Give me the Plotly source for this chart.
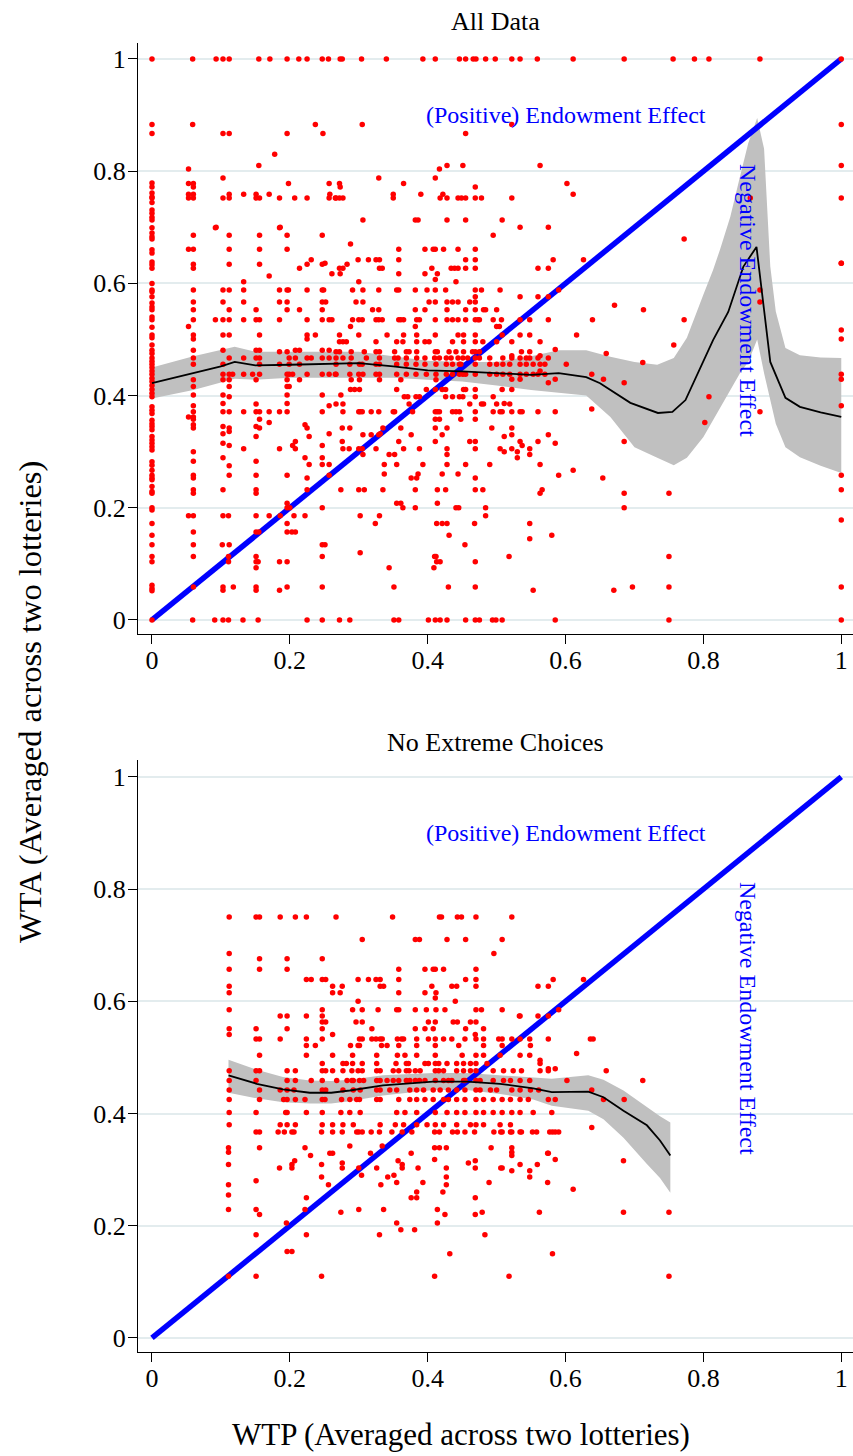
import plotly.graph_objects as go

# ---------------- DATA ----------------
# Panel 1: "All Data"  -- WTA values observed at WTP = 0
TOP_ZERO_COL = [1.0, 0.883, 0.867, 0.779, 0.772, 0.761, 0.754, 0.752, 0.744, 0.731, 0.725, 0.718,
                0.713, 0.699, 0.69, 0.683, 0.679, 0.66, 0.654, 0.638, 0.633, 0.627, 0.6, 0.588,
                0.585, 0.576, 0.565, 0.558, 0.553, 0.54, 0.535, 0.522, 0.508, 0.503, 0.49, 0.481,
                0.475, 0.467, 0.461, 0.456, 0.45, 0.444, 0.438, 0.431, 0.425, 0.418, 0.411, 0.404,
                0.398, 0.38, 0.374, 0.368, 0.356, 0.35, 0.345, 0.339, 0.327, 0.321, 0.315, 0.309,
                0.303, 0.282, 0.276, 0.267, 0.258, 0.253, 0.25, 0.238, 0.229, 0.226, 0.2, 0.196,
                0.172, 0.151, 0.134, 0.113, 0.104, 0.062, 0.056, 0.052, 0.0]

# rows: (WTA, [WTP values])
TOP_ROWS = [
    (1.0, [0.059, 0.093, 0.103, 0.112, 0.155, 0.171, 0.196, 0.213, 0.225, 0.247, 0.256, 0.273, 0.276,
           0.304, 0.34, 0.393, 0.411, 0.446, 0.455, 0.466, 0.47, 0.484, 0.498, 0.522, 0.534, 0.559,
           0.611, 0.685, 0.756, 0.787, 0.808, 0.882, 1.0]),
    (0.883, [0.059, 0.237, 0.305, 0.522, 1.0]),
    (0.867, [0.103, 0.112, 0.196, 0.248, 0.455]),
    (0.83, [0.178]),
    (0.81, [0.155, 0.428, 0.451, 0.563, 1.0]),
    (0.804, [0.053, 0.417]),
    (0.788, [0.103, 0.329, 0.411]),
    (0.778, [0.053, 0.06, 0.198, 0.257, 0.272, 0.365, 0.602]),
    (0.772, [0.06, 0.273, 0.469]),
    (0.759, [0.053, 0.06, 0.112, 0.133, 0.151, 0.17, 0.258, 0.35, 0.39, 0.422, 0.611]),
    (0.752, [0.053, 0.06, 0.103, 0.112, 0.151, 0.156, 0.185, 0.207, 0.225, 0.257, 0.266, 0.267, 0.272,
             0.277, 0.35, 0.418, 0.428, 0.444, 0.449, 0.455, 0.469, 0.478, 0.522, 0.868, 1.0]),
    (0.713, [0.306, 0.382, 0.386, 0.428, 0.455, 0.508]),
    (0.7, [0.093, 0.186, 0.534, 0.575]),
    (0.699, [0.092, 0.185]),
    (0.686, [0.06, 0.112, 0.156, 0.196, 0.247, 0.495]),
    (0.679, [0.772]),
    (0.67, [0.288]),
    (0.661, [0.053, 0.06, 0.112, 0.156, 0.196, 0.358, 0.396, 0.408, 0.411, 0.423, 0.444, 0.469]),
    (0.642, [0.231, 0.299, 0.314, 0.325, 0.33, 0.358, 0.455, 0.469, 0.582, 0.626]),
    (0.636, [0.251, 1.0, 1.0]),
    (0.634, [0.06, 0.112, 0.156, 0.225, 0.247, 0.283]),
    (0.627, [0.06, 0.214, 0.272, 0.277, 0.33, 0.334, 0.406, 0.434, 0.439, 0.444, 0.455, 0.469, 0.56,
             0.575]),
    (0.617, [0.261, 0.273, 0.358, 0.396, 0.414]),
    (0.613, [0.17]),
    (0.607, [0.411]),
    (0.603, [0.133, 0.3, 0.441]),
    (0.588, [0.06, 0.103, 0.112, 0.133, 0.185, 0.196, 0.198, 0.225, 0.247, 0.249, 0.291, 0.306, 0.329,
             0.355, 0.358, 0.382, 0.399, 0.411, 0.426, 0.469, 0.478, 0.505, 0.59, 0.882]),
    (0.576, [0.469, 0.534, 0.56, 0.575]),
    (0.567, [0.06, 0.103, 0.133, 0.185, 0.196, 0.247, 0.252, 0.296, 0.306, 0.402, 0.411, 0.428, 0.436,
             0.444, 0.461, 0.469, 0.882]),
    (0.561, [0.671]),
    (0.553, [0.06, 0.112, 0.151, 0.196, 0.214, 0.247, 0.32, 0.329, 0.382, 0.396, 0.428, 0.455, 0.469,
             0.481, 0.484, 0.5, 0.713]),
    (0.535, [0.06, 0.092, 0.103, 0.112, 0.133, 0.151, 0.156, 0.185, 0.225, 0.247, 0.257, 0.261, 0.291,
             0.3, 0.305, 0.325, 0.329, 0.334, 0.358, 0.361, 0.365, 0.384, 0.388, 0.411, 0.428, 0.436,
             0.444, 0.455, 0.469, 0.473, 0.475, 0.495, 0.507, 0.534, 0.548, 0.575, 0.639, 0.772]),
    (0.523, [0.053, 0.288, 0.382, 0.5, 0.504]),
    (0.517, [1.0]),
    (0.508, [0.06, 0.103, 0.112, 0.156, 0.225, 0.237, 0.272, 0.3, 0.341, 0.365, 0.384, 0.411, 0.444,
             0.452, 0.469, 0.508, 0.534, 0.548, 0.616]),
    (0.501, [0.06, 0.225, 1.0]),
    (0.496, [0.272, 0.277, 0.282, 0.325, 0.355, 0.364, 0.384, 0.396, 0.402, 0.436, 0.452, 0.469, 0.48,
             0.5, 0.522, 0.563]),
    (0.49, [0.757]),
    (0.482, [0.585]),
    (0.481, [0.06, 0.103, 0.151, 0.156, 0.208, 0.214, 0.247, 0.257]),
    (0.478, [0.185, 0.196, 0.267, 0.272, 0.289, 0.308, 0.325, 0.33, 0.352, 0.369, 0.373, 0.384, 0.411,
             0.414, 0.431, 0.441, 0.452, 0.465, 0.469, 0.475, 0.536, 0.548]),
    (0.475, [0.659]),
    (0.471, [0.522, 0.563]),
    (0.467, [0.06, 0.112, 0.133, 0.151, 0.156, 0.199, 0.208, 0.225, 0.231, 0.247, 0.257, 0.267, 0.277,
             0.289, 0.311, 0.33, 0.352, 0.357, 0.369, 0.384, 0.396, 0.41, 0.417, 0.427, 0.434, 0.444,
             0.451, 0.458, 0.469, 0.475, 0.49, 0.509, 0.522, 0.534, 0.543, 0.548, 0.56, 0.575]),
    (0.459, [0.712]),
    (0.456, [0.06, 0.103, 0.156, 0.185, 0.199, 0.214, 0.267, 0.287, 0.301, 0.305, 0.325, 0.33, 0.355,
             0.369, 0.383, 0.396, 0.412, 0.427, 0.436, 0.446, 0.448, 0.469, 0.49, 0.5, 0.509, 0.519,
             0.534, 0.543, 0.553, 0.563, 0.57, 0.601]),
    (0.444, [0.563]),
    (0.438, [0.103, 0.112, 0.117, 0.133, 0.146, 0.156, 0.196, 0.199, 0.204, 0.225, 0.247, 0.257, 0.266,
             0.267, 0.287, 0.3, 0.306, 0.325, 0.33, 0.355, 0.369, 0.383, 0.398, 0.412, 0.427, 0.436,
             0.446, 0.451, 0.455, 0.469, 0.49, 0.5, 0.509, 0.519, 0.534, 0.543, 0.553, 0.56, 0.57,
             0.638, 1.0]),
    (0.429, [0.522, 0.534, 0.585, 0.655, 1.0]),
    (0.428, [0.06, 0.103, 0.112, 0.151, 0.196, 0.214, 0.289, 0.301, 0.33, 0.361, 0.412]),
    (0.423, [0.685, 0.575]),
    (0.416, [0.06, 0.112, 0.196, 0.199]),
    (0.411, [0.288, 0.294, 0.301, 0.355, 0.398, 0.411, 0.421, 0.426, 0.452, 0.455, 0.469, 0.508, 0.522]),
    (0.401, [0.06, 0.103, 0.196, 0.247, 0.274]),
    (0.398, [0.112, 0.366, 0.371, 0.383, 0.388, 0.426, 0.436, 0.446, 0.451, 0.469, 0.495, 0.808]),
    (0.386, [0.103, 0.196, 0.511]),
    (0.385, [0.151, 0.267, 0.277, 0.373, 0.461, 0.478, 0.481, 0.5, 0.519]),
    (0.382, [0.06, 0.257, 1.0]),
    (0.376, [0.638]),
    (0.371, [0.06, 0.103, 0.112, 0.133, 0.151, 0.156, 0.17, 0.185, 0.196, 0.247, 0.277, 0.3, 0.302,
             0.305, 0.318, 0.329, 0.35, 0.352, 0.378, 0.411, 0.414, 0.417, 0.436, 0.441, 0.446, 0.469,
             0.495, 0.505, 0.508, 0.522, 0.534, 0.537, 0.56, 0.585, 0.882]),
    (0.362, [0.053, 0.06]),
    (0.358, [0.06, 0.156, 0.411, 0.417, 0.448, 0.469]),
    (0.352, [0.17, 0.802]),
    (0.348, [0.06, 0.222]),
    (0.345, [0.103, 0.151]),
    (0.342, [0.06, 0.112, 0.156, 0.225, 0.276, 0.287, 0.335, 0.361, 0.411, 0.428, 0.493, 0.522]),
    (0.336, [0.112]),
    (0.332, [0.103, 0.257, 0.331]),
    (0.33, [0.306, 0.318, 0.329, 0.376, 0.421, 0.522, 0.575]),
    (0.327, [0.151, 0.228, 0.511]),
    (0.318, [0.208, 0.276, 0.358, 0.411, 0.461, 0.469, 0.534, 0.56, 0.685]),
    (0.315, [0.103, 0.585]),
    (0.311, [0.112, 0.204, 0.247, 0.537]),
    (0.305, [0.133, 0.185, 0.208, 0.277, 0.286, 0.3, 0.305, 0.325, 0.365, 0.388, 0.428, 0.469, 0.505,
             0.522, 0.548]),
    (0.3, [0.06, 0.511, 0.53]),
    (0.295, [0.306, 0.344, 0.352, 0.428, 0.548]),
    (0.289, [0.103, 0.222, 0.247, 0.53]),
    (0.283, [0.06, 0.151]),
    (0.277, [0.228, 0.247, 0.257, 0.337, 0.355, 0.393, 0.428, 0.455, 0.49, 0.563]),
    (0.275, [0.112]),
    (0.267, [0.611]),
    (0.26, [0.337, 0.386, 0.421, 0.444]),
    (0.258, [0.06, 0.112, 0.151, 0.196, 0.257, 0.59, 1.0]),
    (0.253, [0.06, 0.225, 0.376, 0.384, 0.469, 0.654]),
    (0.232, [0.06, 0.103, 0.151, 0.225, 0.274, 0.3, 0.308, 0.335, 0.382, 0.414, 0.426, 0.469, 0.48,
             0.566, 1.0]),
    (0.226, [0.06, 0.151, 0.563, 0.685, 0.75]),
    (0.208, [0.196, 0.355, 0.361, 0.414]),
    (0.2, [0.196, 0.2, 0.247, 0.364, 0.382, 0.441, 0.445, 0.484, 0.685]),
    (0.186, [0.053, 0.06, 0.103, 0.111, 0.151, 0.17, 0.186, 0.206, 0.222, 0.302, 0.33, 0.484]),
    (0.178, [1.0]),
    (0.172, [0.196, 0.324, 0.413, 0.421, 0.428, 0.468, 0.548]),
    (0.157, [0.06, 0.151, 0.155, 0.196, 0.203, 0.208]),
    (0.151, [0.431, 0.58]),
    (0.145, [0.548]),
    (0.134, [0.06, 0.102, 0.112, 0.247, 0.251, 0.454]),
    (0.12, [0.302]),
    (0.113, [0.06, 0.111, 0.151, 0.247, 0.41, 0.412, 0.518, 0.75]),
    (0.104, [0.111, 0.151, 0.154, 0.185, 0.196, 0.413, 0.418, 0.469]),
    (0.093, [0.151, 0.344, 0.409]),
    (0.059, [0.06, 0.103, 0.118, 0.151, 0.196, 0.247, 0.351, 0.43, 0.469, 0.697, 0.75, 1.0]),
    (0.053, [0.103, 0.151, 0.185, 0.553, 0.67]),
    (0.0, [0.059, 0.091, 0.103, 0.111, 0.132, 0.154, 0.225, 0.247, 0.272, 0.287, 0.351, 0.358, 0.401,
           0.411, 0.418, 0.428, 0.455, 0.469, 0.475, 0.494, 0.499, 0.508, 0.585, 0.75, 1.0]),
]

# Panel 1 local-regression fit with confidence band
TOP_FIT_X = [0.0, 0.06, 0.1, 0.12, 0.15, 0.2, 0.25, 0.3, 0.35, 0.4, 0.45, 0.5, 0.55, 0.59, 0.63,
             0.65, 0.694, 0.734, 0.755, 0.774, 0.814, 0.836, 0.858, 0.877, 0.897, 0.919, 0.94,
             0.97, 1.0]
TOP_FIT_Y = [0.422, 0.44, 0.452, 0.46, 0.454, 0.455, 0.457, 0.458, 0.452, 0.445, 0.443, 0.44,
             0.437, 0.44, 0.433, 0.422, 0.387, 0.369, 0.371, 0.392, 0.499, 0.549, 0.63, 0.665,
             0.46, 0.396, 0.38, 0.37, 0.362]
TOP_BAND_X = [0.0, 0.06, 0.12, 0.15, 0.2, 0.3, 0.35, 0.4, 0.45, 0.5, 0.55, 0.59, 0.63, 0.665,
              0.7, 0.733, 0.757, 0.776, 0.8, 0.814, 0.824, 0.839, 0.853, 0.865, 0.878, 0.888,
              0.897, 0.905, 0.919, 0.94, 0.97, 1.0]
TOP_BAND_HI = [0.45, 0.47, 0.487, 0.478, 0.478, 0.478, 0.47, 0.462, 0.46, 0.46, 0.47, 0.481,
               0.481, 0.469, 0.46, 0.455, 0.467, 0.503, 0.58, 0.624, 0.66, 0.719, 0.79, 0.85,
               0.895, 0.84, 0.63, 0.55, 0.485, 0.472, 0.468, 0.467]
TOP_BAND_LO = [0.395, 0.41, 0.43, 0.428, 0.432, 0.432, 0.432, 0.428, 0.425, 0.418, 0.41, 0.405,
               0.4, 0.362, 0.308, 0.289, 0.276, 0.289, 0.326, 0.355, 0.378, 0.41, 0.44, 0.46,
               0.5, 0.44, 0.39, 0.35, 0.308, 0.29, 0.275, 0.262]

# Panel 2: "No Extreme Choices"
BOT_ROWS = [
    (0.75, [0.112, 0.151, 0.156, 0.186, 0.208, 0.224, 0.267, 0.349, 0.417, 0.42, 0.443, 0.449, 0.47,
            0.522]),
    (0.71, [0.305, 0.382, 0.388, 0.428, 0.455, 0.508]),
    (0.685, [0.112, 0.496]),
    (0.676, [0.156, 0.196, 0.247]),
    (0.657, [0.112, 0.156, 0.196, 0.358, 0.396, 0.408, 0.411, 0.423, 0.47]),
    (0.639, [0.224, 0.231, 0.247, 0.252, 0.299, 0.314, 0.325, 0.331, 0.358, 0.455, 0.47, 0.582, 0.626]),
    (0.627, [0.112, 0.262, 0.276, 0.331, 0.336, 0.406, 0.435, 0.442, 0.47, 0.56, 0.575]),
    (0.615, [0.112, 0.262, 0.273, 0.358, 0.396, 0.412]),
    (0.606, [0.411]),
    (0.6, [0.299, 0.44]),
    (0.585, [0.112, 0.247, 0.291, 0.305, 0.328, 0.355, 0.358, 0.382, 0.398, 0.412, 0.425, 0.47, 0.478,
             0.508, 0.59]),
    (0.574, [0.186, 0.196, 0.224, 0.247, 0.533, 0.534, 0.56, 0.575]),
    (0.563, [0.247, 0.252, 0.296, 0.305, 0.401, 0.411, 0.437, 0.443, 0.462, 0.47]),
    (0.551, [0.112, 0.151, 0.196, 0.247, 0.319, 0.382, 0.396, 0.408, 0.455, 0.481]),
    (0.541, [0.112, 0.262, 0.469]),
    (0.533, [0.151, 0.156, 0.186, 0.224, 0.247, 0.301, 0.305, 0.319, 0.325, 0.331, 0.334, 0.356, 0.362,
             0.365, 0.384, 0.401, 0.411, 0.423, 0.435, 0.454, 0.47, 0.481, 0.503, 0.508, 0.522, 0.534,
             0.548, 0.575, 0.636, 0.64]),
    (0.521, [0.224, 0.237, 0.288, 0.299, 0.301, 0.333, 0.341, 0.358, 0.384, 0.411, 0.445, 0.481, 0.508,
             0.549]),
    (0.507, [0.616]),
    (0.504, [0.156, 0.224, 0.262, 0.291, 0.326, 0.356, 0.367, 0.384, 0.411, 0.45, 0.47, 0.481, 0.505,
             0.534, 0.548]),
    (0.495, [0.563]),
    (0.489, [0.247, 0.277, 0.282, 0.291, 0.305, 0.326, 0.354, 0.369, 0.372, 0.396, 0.401, 0.411, 0.416,
             0.428, 0.442, 0.452, 0.462, 0.47, 0.486, 0.563]),
    (0.48, [0.575, 0.585]),
    (0.476, [0.112, 0.151, 0.156, 0.196, 0.208, 0.247, 0.252, 0.262, 0.277, 0.29, 0.299, 0.305, 0.326,
             0.331, 0.35, 0.358, 0.369, 0.373, 0.382, 0.389, 0.411, 0.416, 0.423, 0.442, 0.452, 0.462,
             0.47, 0.495, 0.51, 0.524, 0.536, 0.563, 0.575, 0.659]),
    (0.459, [0.112, 0.151, 0.196, 0.208, 0.231, 0.247, 0.268, 0.283, 0.29, 0.292, 0.301, 0.307, 0.326,
             0.331, 0.341, 0.35, 0.358, 0.369, 0.374, 0.382, 0.388, 0.396, 0.411, 0.423, 0.43, 0.435,
             0.452, 0.454, 0.47, 0.476, 0.495, 0.51, 0.52, 0.534, 0.548, 0.602, 0.712]),
    (0.442, [0.112, 0.156, 0.186, 0.196, 0.206, 0.247, 0.252, 0.277, 0.292, 0.302, 0.326, 0.331, 0.345,
             0.355, 0.374, 0.384, 0.394, 0.408, 0.418, 0.43, 0.442, 0.454, 0.47, 0.476, 0.491, 0.5,
             0.522, 0.534, 0.549, 0.561, 0.638]),
    (0.425, [0.112, 0.156, 0.191, 0.196, 0.208, 0.222, 0.247, 0.251, 0.275, 0.287, 0.297, 0.301, 0.326,
             0.331, 0.358, 0.374, 0.384, 0.396, 0.408, 0.423, 0.43, 0.442, 0.454, 0.47, 0.481, 0.495,
             0.508, 0.52, 0.534, 0.546, 0.575, 0.585, 0.655, 0.685]),
    (0.402, [0.112, 0.151, 0.194, 0.196, 0.224, 0.247, 0.274, 0.287, 0.302, 0.355, 0.367, 0.384, 0.411,
             0.428, 0.442, 0.454, 0.47, 0.481, 0.495, 0.508, 0.522, 0.534, 0.553, 0.58]),
    (0.38, [0.112, 0.186, 0.196, 0.208, 0.247, 0.262, 0.277, 0.292, 0.331, 0.353, 0.365, 0.384, 0.399,
            0.411, 0.423, 0.442, 0.462, 0.47, 0.481, 0.505, 0.52]),
    (0.375, [0.638]),
    (0.367, [0.151, 0.156, 0.183, 0.192, 0.203, 0.206, 0.246, 0.262, 0.276, 0.297, 0.3, 0.305, 0.318,
             0.33, 0.348, 0.363, 0.377, 0.41, 0.417, 0.436, 0.443, 0.454, 0.468, 0.496, 0.506, 0.508,
             0.52, 0.522, 0.534, 0.536, 0.552, 0.558, 0.577, 0.581, 0.585, 0.59]),
    (0.342, [0.287, 0.334]),
    (0.339, [0.111, 0.156, 0.222, 0.41, 0.417, 0.427, 0.492, 0.522]),
    (0.331, [0.111, 0.522]),
    (0.329, [0.258, 0.262, 0.317, 0.376, 0.574, 0.575]),
    (0.325, [0.23, 0.522]),
    (0.318, [0.41, 0.585]),
    (0.316, [0.207, 0.357, 0.469, 0.684]),
    (0.312, [0.276, 0.459]),
    (0.309, [0.111, 0.203, 0.246, 0.363, 0.534, 0.559]),
    (0.303, [0.185, 0.203, 0.276, 0.3, 0.326, 0.363, 0.386, 0.427, 0.469, 0.506, 0.508]),
    (0.298, [0.522, 0.548]),
    (0.29, [0.304, 0.351]),
    (0.287, [0.246, 0.342, 0.427, 0.548]),
    (0.28, [0.151]),
    (0.277, [0.355, 0.393, 0.489, 0.574]),
    (0.273, [0.111, 0.256, 0.332, 0.427]),
    (0.265, [0.611]),
    (0.26, [0.384, 0.422]),
    (0.255, [0.111]),
    (0.25, [0.224, 0.376, 0.384, 0.469]),
    (0.229, [0.111, 0.151, 0.222, 0.3, 0.336, 0.414]),
    (0.224, [0.274, 0.479, 0.562, 0.684, 0.75]),
    (0.22, [0.156, 0.425, 0.469]),
    (0.205, [0.195, 0.355, 0.414]),
    (0.193, [0.361, 0.381]),
    (0.184, [0.151, 0.224, 0.33, 0.483]),
    (0.154, [0.196, 0.203]),
    (0.15, [0.432, 0.581]),
    (0.11, [0.111, 0.151, 0.246, 0.41, 0.518, 0.75]),
]

BOT_FIT_X = [0.111, 0.152, 0.19, 0.229, 0.26, 0.287, 0.335, 0.408, 0.457, 0.505, 0.553, 0.58,
             0.633, 0.655, 0.684, 0.718, 0.737, 0.752]
BOT_FIT_Y = [0.468, 0.453, 0.443, 0.437, 0.437, 0.441, 0.45, 0.457, 0.457, 0.453, 0.445, 0.438,
             0.439, 0.429, 0.405, 0.379, 0.352, 0.325]
BOT_BAND_HI = [0.496, 0.478, 0.465, 0.459, 0.458, 0.46, 0.468, 0.472, 0.472, 0.468, 0.465, 0.462,
               0.468, 0.46, 0.441, 0.411, 0.395, 0.384]
BOT_BAND_LO = [0.437, 0.427, 0.42, 0.418, 0.418, 0.422, 0.432, 0.442, 0.442, 0.435, 0.425, 0.414,
               0.405, 0.39, 0.357, 0.31, 0.285, 0.259]

DIAG = [0, 1]
TICKS = [0, 0.2, 0.4, 0.6, 0.8, 1]
PANEL_TITLES = ["All Data", "No Extreme Choices"]
POS_LABEL = "(Positive) Endowment Effect"
NEG_LABEL = "Negative Endowment Effect"
X_TITLE = "WTP (Averaged across two lotteries)"
Y_TITLE = "WTA (Averaged across two lotteries)"

# ---------------- FIGURE ----------------
FONT = "Liberation Serif, Times New Roman, serif"
RED = "#ff0000"
BLUE = "#0000ff"
BAND = "#c0c0c0"
GRID = "#e3ecee"


def flatten(rows, zero_col=None):
    xs, ys = [], []
    for y, row in rows:
        for x in row:
            xs.append(x)
            ys.append(y)
    if zero_col is not None:
        for y in zero_col:
            xs.append(0.0)
            ys.append(y)
    return xs, ys


top_x, top_y = flatten(TOP_ROWS, TOP_ZERO_COL)
bot_x, bot_y = flatten(BOT_ROWS)

fig = go.Figure()


def add_panel(xa, ya, px, py, fx, fy, bx, bhi, blo):
    fig.add_trace(go.Scatter(x=list(bx) + list(bx)[::-1], y=list(bhi) + list(blo)[::-1],
                             fill="toself", fillcolor=BAND, line=dict(width=0),
                             mode="lines", hoverinfo="skip", showlegend=False,
                             xaxis=xa, yaxis=ya))
    fig.add_trace(go.Scatter(x=DIAG, y=DIAG, mode="lines", line=dict(color=BLUE, width=5.5),
                             showlegend=False, xaxis=xa, yaxis=ya))
    fig.add_trace(go.Scatter(x=px, y=py, mode="markers",
                             marker=dict(color=RED, size=5.5, line=dict(width=0)),
                             showlegend=False, xaxis=xa, yaxis=ya))
    fig.add_trace(go.Scatter(x=fx, y=fy, mode="lines", line=dict(color="black", width=1.8),
                             showlegend=False, xaxis=xa, yaxis=ya))


add_panel("x", "y", top_x, top_y, TOP_FIT_X, TOP_FIT_Y, TOP_BAND_X, TOP_BAND_HI, TOP_BAND_LO)
add_panel("x2", "y2", bot_x, bot_y, BOT_FIT_X, BOT_FIT_Y, BOT_FIT_X, BOT_BAND_HI, BOT_BAND_LO)

axis_common = dict(showline=True, linecolor="black", linewidth=1.3, ticks="outside", ticklen=9,
                   tickwidth=1.3, tickcolor="black", tickvals=TICKS,
                   tickfont=dict(family=FONT, size=26, color="black"), zeroline=False)
fig.update_layout(
    width=853, height=1456, margin=dict(l=138, r=0, t=0, b=0),
    paper_bgcolor="white", plot_bgcolor="white", showlegend=False,
    font=dict(family=FONT, color="black"),
    xaxis=dict(domain=[0, 1], range=[-0.0203, 1.017], anchor="y", showgrid=False,
               ticklabelstandoff=-6, **axis_common),
    yaxis=dict(domain=[1 - 634 / 1456, 1 - 43 / 1456], range=[-0.025, 1.0285], anchor="x",
               showgrid=True, gridcolor=GRID, gridwidth=1.5, ticklabelstandoff=-3, **axis_common),
    xaxis2=dict(domain=[0, 1], range=[-0.0203, 1.017], anchor="y2", showgrid=False,
                ticklabelstandoff=-6, **axis_common),
    yaxis2=dict(domain=[1 - 1352 / 1456, 1 - 760 / 1456], range=[-0.025, 1.03], anchor="x2",
                showgrid=True, gridcolor=GRID, gridwidth=1.5, ticklabelstandoff=-3, **axis_common),
)

ann = []
ann.append(dict(text=PANEL_TITLES[0], x=0.5, y=1 - 22 / 1456, xref="paper", yref="paper",
                xanchor="center", yanchor="middle", showarrow=False,
                font=dict(family=FONT, size=26, color="black")))
ann.append(dict(text=PANEL_TITLES[1], x=0.5, y=1 - 742 / 1456, xref="paper", yref="paper",
                xanchor="center", yanchor="middle", showarrow=False,
                font=dict(family=FONT, size=26, color="black")))
for xr, yr in (("x", "y"), ("x2", "y2")):
    ann.append(dict(text=POS_LABEL, x=0.6, y=0.9, xref=xr, yref=yr, showarrow=False,
                    xanchor="center", yanchor="middle",
                    font=dict(family=FONT, size=24, color=BLUE)))
    ann.append(dict(text=NEG_LABEL, x=0.865, y=0.57, xref=xr, yref=yr, showarrow=False,
                    xanchor="center", yanchor="middle", textangle=90,
                    font=dict(family=FONT, size=24, color=BLUE)))
ann.append(dict(text=Y_TITLE, x=(30 - 138) / 715, y=1 - 702 / 1456, xref="paper", yref="paper",
                xanchor="center", yanchor="middle", showarrow=False, textangle=-90,
                font=dict(family=FONT, size=32.5, color="black")))
ann.append(dict(text=X_TITLE, x=(461 - 138) / 715, y=1 - 1434 / 1456, xref="paper", yref="paper",
                xanchor="center", yanchor="middle", showarrow=False,
                font=dict(family=FONT, size=31, color="black")))
fig.update_layout(annotations=ann)

fig.write_html("out.html")
